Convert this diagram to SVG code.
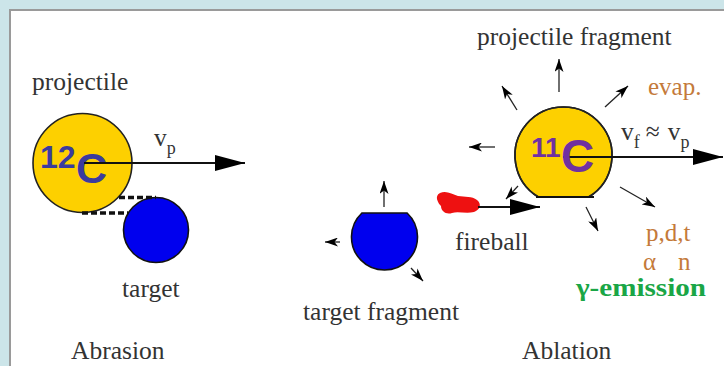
<svg xmlns="http://www.w3.org/2000/svg" width="724" height="366" viewBox="0 0 724 366">
  <defs>
    <style>
      .lbl { font-family: "Liberation Serif", "Times New Roman", serif; font-size: 25.5px; fill: #333; }
      .org { font-family: "Liberation Serif", "Times New Roman", serif; font-size: 25px; fill: #c47a3a; }
      .iso { font-family: "Liberation Sans", Arial, sans-serif; font-weight: bold; }
      .gold { fill: #fdd000; stroke: #222; stroke-width: 1.6; }
      .blue { fill: #0000ee; stroke: #111; stroke-width: 1.6; }
      .big { stroke: #111; stroke-width: 2; fill: none; marker-end: url(#bighead); }
      .small { stroke: #222; stroke-width: 1.3; fill: none; marker-end: url(#smallhead); }
      .dash { stroke: #111; stroke-width: 3.5; stroke-dasharray: 6 3; fill: none; }
    </style>
    <marker id="bighead" markerUnits="userSpaceOnUse" viewBox="0 0 30 16" refX="30" refY="8" markerWidth="30" markerHeight="16" orient="auto">
      <path d="M0,0 L30,8 L0,16 Z" fill="#000"/>
    </marker>
    <marker id="smallhead" markerUnits="userSpaceOnUse" viewBox="0 0 13 9" refX="13" refY="4.5" markerWidth="13" markerHeight="9" orient="auto">
      <path d="M0,0 L13,4.5 L0,9 L3.5,4.5 Z" fill="#000"/>
    </marker>
  </defs>

  <!-- frame -->
  <rect x="0" y="0" width="724" height="366" fill="#cce5e9"/>
  <rect x="10" y="10" width="730" height="370" fill="#fff" stroke="#9a9a9a" stroke-width="2"/>

  <!-- Abrasion side -->
  <g id="projectile">
    <circle class="gold" cx="82.5" cy="163" r="49.5"/>
    <text class="iso" x="40" y="168" font-size="32" fill="#3b3b9e">12</text>
    <text class="iso" x="76" y="183" font-size="43" fill="#3b3b9e">C</text>
  </g>
  <g id="target">
    <circle class="blue" cx="156" cy="230" r="32.5"/>
  </g>

  <!-- Ablation side -->
  <g id="target-fragment">
    <path class="blue" d="M361.9,213 A33,33 0 1 0 407.1,213 Z"/>
  </g>
  <g id="fireball">
    <path d="M440,193 C446,190 452,194 458,196 C465,197 472,196 477,200 C482,204 480,210 474,212 C466,214 458,211 452,213 C446,215 441,211 441,206 C438,203 434,196 440,193 Z" fill="#ee1111"/>
  </g>
  <g id="projectile-fragment">
    <path class="gold" d="M538.4,197 A48.5,48.5 0 1 1 588.6,197 Z" stroke="none"/>
    <path d="M538.4,197 A48.5,48.5 0 1 1 588.6,197" fill="none" stroke="#222" stroke-width="1.6"/>
    <line x1="536" y1="197" x2="594" y2="197" stroke="#111" stroke-width="2.2"/>
  </g>

  <g id="connectors">
    <!-- overlap tangents -->
    <line class="dash" x1="119" y1="197.5" x2="156" y2="197.5"/>
    <line class="dash" x1="82" y1="213" x2="128" y2="213"/>
    <!-- velocities -->
    <line class="big" x1="84" y1="163" x2="245" y2="163"/>
    <line class="big" x1="563" y1="157" x2="723" y2="157"/>
    <line class="big" x1="478" y1="207" x2="540" y2="207"/>
    <!-- projectile fragment emission -->
    <line class="small" x1="559" y1="92" x2="559" y2="59"/>
    <line class="small" x1="517" y1="110" x2="502" y2="86"/>
    <line class="small" x1="605" y1="107" x2="628" y2="86"/>
    <line class="small" x1="495" y1="147" x2="469" y2="147"/>
    <line class="small" x1="518" y1="186" x2="506" y2="199"/>
    <line class="small" x1="620" y1="187" x2="655" y2="207"/>
    <line class="small" x1="586" y1="207" x2="598" y2="231"/>
    <!-- target fragment emission -->
    <line class="small" x1="384" y1="207" x2="384" y2="181"/>
    <line class="small" x1="340" y1="242" x2="325" y2="242"/>
    <line class="small" x1="411" y1="268" x2="423" y2="281"/>
  </g>

  <g id="labels">
    <text class="lbl" x="32" y="90">projectile</text>
    <text class="lbl" x="154" y="146" font-size="24">v<tspan font-size="18" dy="8">p</tspan></text>
    <text class="lbl" x="122" y="297">target</text>
    <text class="lbl" x="71" y="359">Abrasion</text>
    <text class="lbl" x="303" y="320">target fragment</text>
    <text class="lbl" x="455" y="250">fireball</text>
    <text class="lbl" x="477" y="45">projectile fragment</text>
    <text class="lbl" x="522" y="359">Ablation</text>
    <text class="lbl" x="621" y="140" font-size="24">v<tspan font-size="18" dy="8">f</tspan><tspan dy="-8" dx="6">≈</tspan><tspan dx="8">v</tspan><tspan font-size="18" dy="8">p</tspan></text>
    <text class="org" x="648" y="95">evap.</text>
    <text class="org" x="646" y="241">p,d,t</text>
    <text class="org" x="643" y="270">α</text>
    <text class="org" x="678" y="270">n</text>
    <text x="576" y="296" font-family="'Liberation Serif', 'Times New Roman', serif" font-weight="bold" font-size="25" fill="#1aa646" textLength="130" lengthAdjust="spacingAndGlyphs">γ-emission</text>
    <text class="iso" x="531" y="157" font-size="28" fill="#7030a0">11</text>
    <text class="iso" x="561" y="172" font-size="46" fill="#7030a0">C</text>
  </g>
</svg>
